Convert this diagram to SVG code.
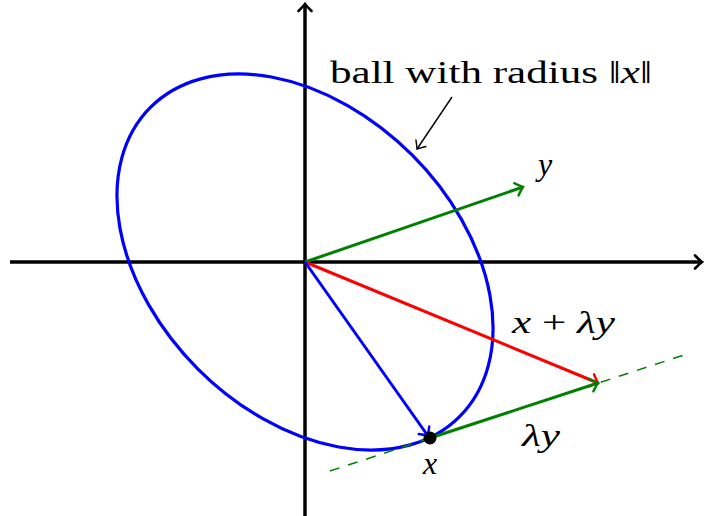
<svg xmlns="http://www.w3.org/2000/svg" width="704" height="516" viewBox="0 0 704 516">
<style>
.ax{stroke:#000;stroke-width:3.5;fill:none}
.vec{stroke-width:3;fill:none}
.lbl{font-family:"Liberation Serif","DejaVu Serif",serif;font-size:32px;fill:#000}
.it{font-style:italic}
</style>
<defs>
<marker id="hkb" viewBox="-8 -8 12 16" markerWidth="12" markerHeight="16" refX="1" refY="0" orient="auto" markerUnits="userSpaceOnUse">
<path d="M-6,-6.5 Q-1,-1.5 1,0 Q-1,1.5 -6,6.5" fill="none" stroke="#000" stroke-width="2.6" stroke-linecap="round"/>
</marker>
<marker id="hkg" viewBox="-8 -8 12 16" markerWidth="12" markerHeight="16" refX="1" refY="0" orient="auto" markerUnits="userSpaceOnUse">
<path d="M-6,-6.5 Q-1,-1.5 1,0 Q-1,1.5 -6,6.5" fill="none" stroke="#008000" stroke-width="2.4" stroke-linecap="round"/>
</marker>
<marker id="hkr" viewBox="-8 -8 12 16" markerWidth="12" markerHeight="16" refX="1" refY="0" orient="auto" markerUnits="userSpaceOnUse">
<path d="M-6,-6.5 Q-1,-1.5 1,0 Q-1,1.5 -6,6.5" fill="none" stroke="#ff0000" stroke-width="2.4" stroke-linecap="round"/>
</marker>
<marker id="hku" viewBox="-8 -8 12 16" markerWidth="12" markerHeight="16" refX="1" refY="0" orient="auto" markerUnits="userSpaceOnUse">
<path d="M-6,-6.5 Q-1,-1.5 1,0 Q-1,1.5 -6,6.5" fill="none" stroke="#0000ff" stroke-width="2.4" stroke-linecap="round"/>
</marker>
<marker id="hkt" viewBox="-8 -8 12 16" markerWidth="12" markerHeight="16" refX="1" refY="0" orient="auto" markerUnits="userSpaceOnUse">
<path d="M-6,-6 Q-1,-1.5 1,0 Q-1,1.5 -6,6" fill="none" stroke="#000" stroke-width="1.4" stroke-linecap="round"/>
</marker>
</defs>
<g id="axes">
<line class="ax" x1="10" y1="262" x2="702" y2="262" marker-end="url(#hkb)"/>
<line class="ax" x1="305" y1="516" x2="305" y2="4" marker-end="url(#hkb)"/>
</g>
<g id="ball">
<ellipse cx="305" cy="262" rx="218.6" ry="151.4" transform="rotate(45 305 262)" fill="none" stroke="#0000ff" stroke-width="3.2"/>
</g>
<g id="connectors">
<line x1="330" y1="471" x2="690" y2="353" stroke="#008000" stroke-width="1.5" stroke-dasharray="10,9"/>
<line class="vec" x1="305" y1="262" x2="523" y2="187" stroke="#008000" marker-end="url(#hkg)"/>
<line class="vec" x1="305" y1="262" x2="598" y2="383" stroke="#ff0000" marker-end="url(#hkr)"/>
<line class="vec" x1="430" y1="438" x2="598" y2="383" stroke="#008000" marker-end="url(#hkg)"/>
<line class="vec" x1="305" y1="262" x2="428" y2="436" stroke="#0000ff" marker-end="url(#hku)"/>
<line x1="452" y1="97" x2="417" y2="149" stroke="#000" stroke-width="1.4" marker-end="url(#hkt)"/>
</g>
<g id="point-x">
<circle cx="430" cy="438" r="6.5" fill="#000"/>
<text class="lbl it" x="430" y="474" text-anchor="middle">x</text>
</g>
<g id="label-ball">
<text class="lbl" x="330" y="83" textLength="322" lengthAdjust="spacingAndGlyphs">ball with radius ‖<tspan class="it">x</tspan>‖</text>
</g>
<g id="label-y"><text class="lbl it" x="545" y="175" text-anchor="middle">y</text></g>
<g id="label-xly"><text class="lbl" x="512" y="333" textLength="103" lengthAdjust="spacingAndGlyphs"><tspan class="it">x</tspan> + <tspan class="it">λy</tspan></text></g>
<g id="label-ly"><text class="lbl it" x="522" y="446" textLength="38" lengthAdjust="spacingAndGlyphs">λy</text></g>
</svg>
